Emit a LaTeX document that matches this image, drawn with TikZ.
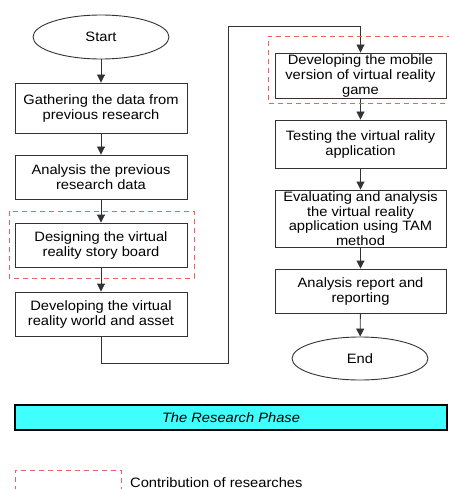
\documentclass[tikz,border=0pt]{standalone}
\usepackage{fontspec}
\setmainfont{Liberation Sans}[FakeStretch=1.08]
\usetikzlibrary{arrows.meta,shapes.geometric}
\definecolor{lineclr}{HTML}{333333}
\definecolor{contrib}{HTML}{F06060}
\definecolor{phase}{HTML}{40FFFF}
\tikzset{
  stepbox/.style={draw=lineclr, line width=0.9pt, minimum width=172pt, inner sep=0pt,
    align=center, font=\fontsize{13.6}{15}\selectfont},
  terminal/.style={draw=lineclr, line width=0.9pt, ellipse, minimum width=136pt,
    minimum height=44pt, inner sep=0pt, font=\fontsize{13.6}{15}\selectfont},
  flow/.style={draw=lineclr, line width=0.9pt, -{Triangle[length=8pt,width=8pt]}},
  contribbox/.style={draw=contrib, line width=0.9pt, dash pattern=on 5pt off 4pt},
}
\begin{document}
\begin{tikzpicture}[x=1pt,y=-1pt]
\useasboundingbox (0,0) rectangle (448,489);

% left column
\node[terminal] (start) at (101,37) {Start};
\node[stepbox, minimum height=50pt] (gather) at (101,108) {Gathering the data from\\previous research};
\node[stepbox, minimum height=44pt] (analyse) at (101,177) {Analysis the previous\\research data};
\node[stepbox, minimum height=44pt] (design) at (101,245) {Designing the virtual\\reality story board};
\node[stepbox, minimum height=44pt] (world) at (101,314) {Developing the virtual\\reality world and asset};

% right column
\node[stepbox, minimum width=171pt, minimum height=45pt] (mobile) at (360.5,75.5) {Developing the mobile\\version of virtual reality\\game};
\node[stepbox, minimum width=171pt, minimum height=48pt] (testing) at (360.5,144) {Testing the virtual rality\\application};
\node[stepbox, minimum width=171pt, minimum height=57pt, font=\fontsize{13.6}{14.6}\selectfont] (evaluate) at (360.5,218.5) {Evaluating and analysis\\the virtual reality\\application using TAM\\method};
\node[stepbox, minimum width=171pt, minimum height=44pt] (report) at (360.5,291) {Analysis report and\\reporting};
\node[terminal, minimum height=43pt] (end) at (360,358.5) {End};

% flow
\draw[flow] (start) -- (gather);
\draw[flow] (gather) -- (analyse);
\draw[flow] (analyse) -- (design);
\draw[flow] (design) -- (world);
\coordinate (low) at (101,363);
\coordinate (lowright) at (228,363);
\coordinate (topleft) at (228,26);
\coordinate (topright) at (360.5,26);
\draw[flow] (world.south) -- (low) -- (lowright) -- (topleft) -- (topright) -- (mobile.north);
\draw[flow] (mobile) -- (testing);
\draw[flow] (testing) -- (evaluate);
\draw[flow] (evaluate) -- (report);
\draw[flow] (report) -- (end);

% contribution frames
\draw[contribbox] (9,211) rectangle (194,278);
\draw[contribbox] (452,36) -- (268,36) -- (268,103) -- (452,103);

% phase bar
\node[draw=black, line width=1.3pt, fill=phase, minimum width=432pt, minimum height=25pt,
  inner sep=0pt, font=\fontsize{13.6}{15}\selectfont\itshape] (phasebar) at (231,417.5) {The Research Phase};

% legend
\draw[contribbox] (15,500) -- (15,470) -- (121,470) -- (121,500);
\node[anchor=west, inner sep=0pt, font=\fontsize{13.6}{15}\selectfont] (legend) at (130,482.5) {Contribution of researches};
\end{tikzpicture}
\end{document}
